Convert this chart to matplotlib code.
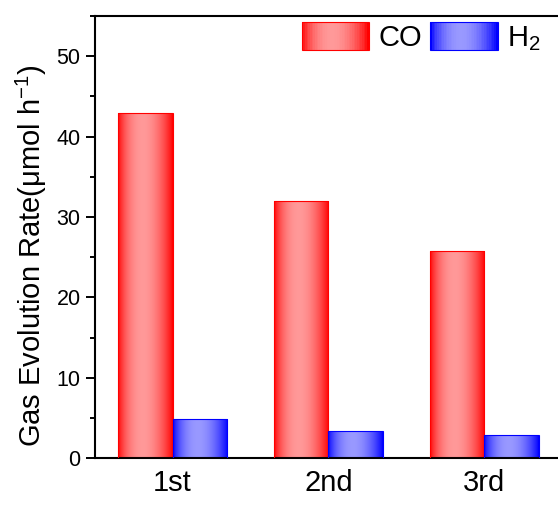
import matplotlib
matplotlib.use('Agg')
import numpy as np
import matplotlib.pyplot as plt
from matplotlib.patches import Rectangle
from matplotlib.legend_handler import HandlerBase
from matplotlib.ticker import MultipleLocator

plt.rcParams['font.family'] = ['Liberation Sans', 'DejaVu Sans']
plt.rcParams['mathtext.fontset'] = 'custom'
plt.rcParams['mathtext.rm'] = 'Liberation Sans'
plt.rcParams['mathtext.it'] = 'Liberation Sans'

# data
cycles = ['1st', '2nd', '3rd']
co_rate = [42.9, 32.0, 25.8]
h2_rate = [4.9, 3.4, 2.9]
series_names = ['CO', r'H$_2$']

RED = (1.0, 0.0, 0.0)
BLUE = (0.0, 0.0, 1.0)
W = 0.35


def grad_colors(base, n=64):
    t = np.linspace(0, 1, n)
    light = np.sin(np.pi * t ** 0.868) ** 0.8
    base = np.array(base)
    mix = 0.6 * light[:, None]
    return base * (1 - mix) + np.ones(3) * mix


def fill_gradient(ax, patch, base):
    x0, y0 = patch.get_x(), patch.get_y()
    w, h = patch.get_width(), patch.get_height()
    img = grad_colors(base)[None, :, :]
    im = ax.imshow(img, extent=(x0, x0 + w, y0, y0 + h), aspect='auto',
                   interpolation='bilinear', zorder=2)
    im.set_clip_path(patch)


class GradHandler(HandlerBase):
    def __init__(self, base):
        super().__init__()
        self.base = base

    def create_artists(self, legend, orig_handle, xdescent, ydescent,
                       width, height, fontsize, trans):
        cols = grad_colors(self.base, 40)
        n = len(cols)
        arts = []
        for i, c in enumerate(cols):
            r = Rectangle((-xdescent + width * i / n, -ydescent), width / n * 1.05, height,
                          facecolor=c, edgecolor='none', transform=trans)
            arts.append(r)
        arts.append(Rectangle((-xdescent, -ydescent), width, height, facecolor='none',
                              edgecolor=self.base, lw=0.8, transform=trans))
        return arts


fig = plt.figure(figsize=(5.58, 5.05), dpi=100)
ax = fig.add_axes([0.1697, 0.0925, 0.8375, 0.8758])

x = np.arange(1, len(cycles) + 1)
b1 = ax.bar(x - W / 2, co_rate, W, facecolor='none', edgecolor=RED, lw=0.8, zorder=3)
b2 = ax.bar(x + W / 2, h2_rate, W, facecolor='none', edgecolor=BLUE, lw=0.8, zorder=3)
for p in b1:
    fill_gradient(ax, p, RED)
for p in b2:
    fill_gradient(ax, p, BLUE)

ax.set_xlim(0.5, 3.5)
ax.set_ylim(0, 55)
ax.set_xticks(x)
ax.set_xticklabels(cycles, fontsize=21)
ax.tick_params(axis='x', length=0, pad=8)
ax.yaxis.set_major_locator(MultipleLocator(10))
ax.yaxis.set_minor_locator(MultipleLocator(5))
ax.tick_params(axis='y', which='major', direction='out', length=6.2, width=1.4,
               labelsize=15.5, pad=4)
ax.tick_params(axis='y', which='minor', direction='out', length=3.5, width=1.4)
for s in ['left', 'bottom', 'top']:
    ax.spines[s].set_linewidth(1.5)
ax.spines['right'].set_visible(False)
ax.set_ylabel(r'Gas Evolution Rate($\mathregular{\mu}$mol h$^{\mathregular{-1}}$)', fontsize=21)
ax.yaxis.set_label_coords(-0.097, 0.458)

h1 = Rectangle((0, 0), 1, 1)
h2 = Rectangle((0, 0), 1, 1)
ax.legend([h1, h2], series_names, handler_map={h1: GradHandler(RED), h2: GradHandler(BLUE)},
          loc='upper right', bbox_to_anchor=(0.985, 1.02), ncol=2, frameon=False,
          fontsize=21, borderpad=0, handlelength=2.3, handleheight=1.13,
          handletextpad=0.32, columnspacing=0.3)

fig.savefig('out.png', dpi=100)
